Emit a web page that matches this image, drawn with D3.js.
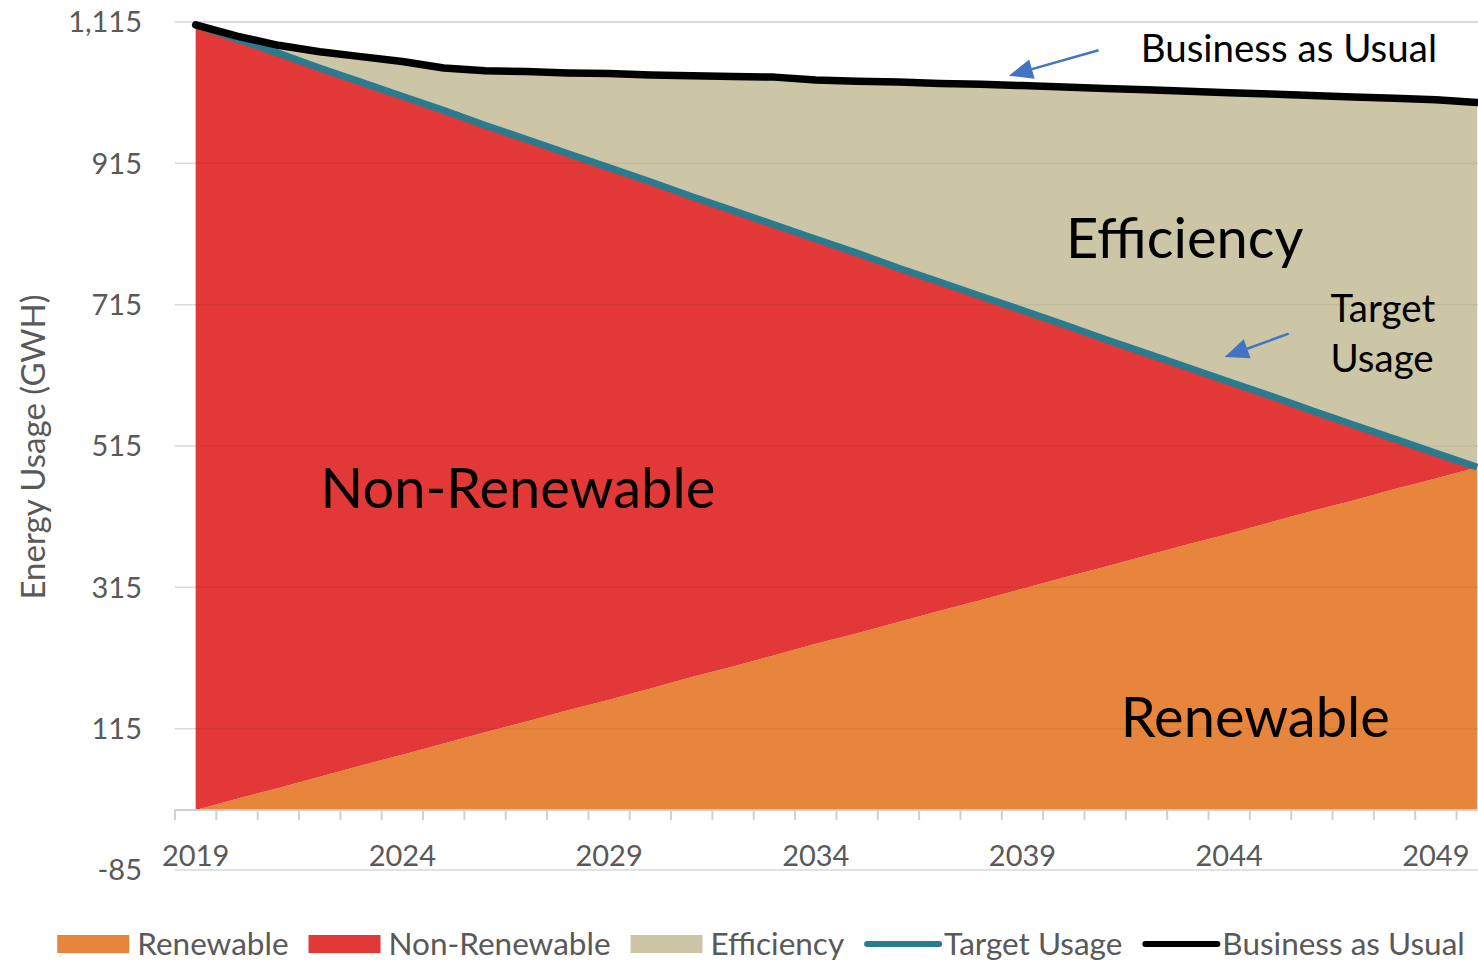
<!DOCTYPE html>
<meta charset="utf-8">
<style>
    body { margin: 0; background: #ffffff; }
    text { font-family: Lato, "Open Sans", sans-serif; }
    .tick-label { fill: #595959; font-size: 29px; }
    .legend text { fill: #595959; font-size: 31.5px; }
    .note { fill: #000000; }
</style>
<svg width="1478" height="962"></svg>
<script src="https://cdnjs.cloudflare.com/ajax/libs/d3/7.8.5/d3.min.js"></script>
<script>

    // data (GWH)
    var years = [2019, 2020, 2021, 2022, 2023, 2024, 2025, 2026, 2027, 2028, 2029,
        2030, 2031, 2032, 2033, 2034, 2035, 2036, 2037, 2038, 2039, 2040,
        2041, 2042, 2043, 2044, 2045, 2046, 2047, 2048, 2049, 2050];

    var renewable = [0, 16, 31, 47, 63, 78, 94, 110, 125, 141, 156,
        172, 188, 203, 219, 235, 250, 266, 282, 297, 313, 329,
        344, 360, 376, 391, 407, 423, 438, 454, 469, 485];

    var targetUsage = [1111, 1091, 1071, 1050, 1030, 1010, 990, 969, 949, 929, 909,
        889, 868, 848, 828, 808, 788, 767, 747, 727, 707, 687,
        666, 646, 626, 606, 586, 565, 545, 525, 505, 485];

    var businessAsUsual = [1111, 1095, 1082, 1073, 1066, 1059, 1050, 1046, 1045, 1043, 1042,
        1040, 1039, 1038, 1037, 1033, 1031, 1030, 1028, 1027, 1025, 1023,
        1021, 1019, 1017, 1015, 1013, 1011, 1009, 1007, 1005, 1001];

    var yTicks = [-85, 115, 315, 515, 715, 915, 1115];
    var xLabelYears = [2019, 2024, 2029, 2034, 2039, 2044, 2049];

    var seriesNames = ["Renewable", "Non-Renewable", "Efficiency", "Target Usage", "Business as Usual"];
    var colors = {
        "Renewable": "#e8853c",
        "Non-Renewable": "#e23838",
        "Efficiency": "#ccc6a6",
        "Target Usage": "#2b7b8f",
        "Business as Usual": "#000000"
    };

    // stacked table for the area part
    var table = years.map(function (yr, i) {
        return {
            year: yr,
            "Renewable": renewable[i],
            "Non-Renewable": targetUsage[i] - renewable[i],
            "Efficiency": businessAsUsual[i] - targetUsage[i]
        };
    });

    var svg = d3.select("svg"),
        width = +svg.attr("width"),
        height = +svg.attr("height");

    var step = 41.34;
    var x = d3.scaleBand().domain(years).range([175, 175 + years.length * step]);
    var xc = function (yr) { return x(yr) + x.bandwidth() / 2; };
    // fractional years, used for the annotations
    var xl = d3.scaleLinear().domain([years[0], years[years.length - 1]])
        .range([xc(years[0]), xc(years[years.length - 1])]);
    var y = d3.scaleLinear().domain([-85, 1115]).range([870, 22]);

    // gridlines
    svg.append("g")
        .selectAll("line")
        .data(yTicks)
        .enter().append("line")
        .attr("x1", 175).attr("x2", width)
        .attr("y1", function (d) { return y(d); })
        .attr("y2", function (d) { return y(d); })
        .attr("stroke", "#d9d9d9")
        .attr("stroke-width", 1.5);

    // areas
    var stack = d3.stack().keys(["Renewable", "Non-Renewable", "Efficiency"]);
    var layers = stack(table);
    var area = d3.area()
        .x(function (d) { return xc(d.data.year); })
        .y0(function (d) { return y(d[0]); })
        .y1(function (d) { return y(d[1]); });

    svg.append("g")
        .selectAll("path")
        .data(layers)
        .enter().append("path")
        .attr("d", area)
        .attr("fill", function (d) { return colors[d.key]; });

    // faint gridlines showing through the fill
    svg.append("g")
        .selectAll("line")
        .data(yTicks.filter(function (d) { return d > 0; }))
        .enter().append("line")
        .attr("x1", xc(years[0])).attr("x2", width)
        .attr("y1", function (d) { return y(d); })
        .attr("y2", function (d) { return y(d); })
        .attr("stroke", "rgba(0,0,0,0.05)")
        .attr("stroke-width", 1.5);

    // x axis at zero
    var xAxis = svg.append("g");
    xAxis.append("line")
        .attr("x1", 175).attr("x2", width)
        .attr("y1", y(0)).attr("y2", y(0))
        .attr("stroke", "#d0d0d0")
        .attr("stroke-width", 2);
    xAxis.selectAll(".xtick")
        .data(years)
        .enter().append("line")
        .attr("class", "xtick")
        .attr("x1", function (d) { return x(d); })
        .attr("x2", function (d) { return x(d); })
        .attr("y1", y(0)).attr("y2", y(0) + 10)
        .attr("stroke", "#d0d0d0")
        .attr("stroke-width", 2);
    xAxis.selectAll("text")
        .data(xLabelYears)
        .enter().append("text")
        .attr("class", "tick-label")
        .attr("x", function (d) { return xc(d); })
        .attr("y", y(-85) - 4)
        .attr("text-anchor", "middle")
        .text(function (d) { return d; });

    // y labels (plain hyphen for the negative value, as in the original)
    var fmt = d3.format(",");
    svg.append("g")
        .selectAll("text")
        .data(yTicks)
        .enter().append("text")
        .attr("class", "tick-label")
        .attr("x", 142)
        .attr("y", function (d) { return y(d); })
        .attr("dy", "0.36em")
        .attr("text-anchor", "end")
        .text(function (d) { return fmt(d).replace("\u2212", "-"); });

    svg.append("text")
        .attr("transform", "translate(45," + 447 + ") rotate(-90)")
        .attr("text-anchor", "middle")
        .attr("fill", "#595959")
        .style("font-size", "33px")
        .text("Energy Usage (GWH)");

    // lines
    var line = d3.line()
        .x(function (d, i) { return xc(years[i]); })
        .y(function (d) { return y(d); });

    svg.append("path")
        .datum(targetUsage)
        .attr("d", line)
        .attr("fill", "none")
        .attr("stroke", colors["Target Usage"])
        .attr("stroke-width", 7)
        .attr("stroke-linejoin", "round");

    svg.append("path")
        .datum(businessAsUsual)
        .attr("d", line)
        .attr("fill", "none")
        .attr("stroke", colors["Business as Usual"])
        .attr("stroke-width", 7.5)
        .attr("stroke-linejoin", "round")
        .attr("stroke-linecap", "round");

    // annotations (positions in year / GWH)
    var notes = [
        { text: "Business as Usual", yr: 2041.86, v: 1058, size: 38.5 },
        { text: "Efficiency", yr: 2040.05, v: 781, size: 56 },
        { text: "Target", yr: 2046.45, v: 690, size: 38.5 },
        { text: "Usage", yr: 2046.45, v: 620, size: 38.5 },
        { text: "Non-Renewable", yr: 2022.02, v: 427, size: 56 },
        { text: "Renewable", yr: 2041.38, v: 103, size: 56 }
    ];
    svg.append("g")
        .selectAll("text")
        .data(notes)
        .enter().append("text")
        .attr("class", "note")
        .attr("x", function (d) { return xl(d.yr); })
        .attr("y", function (d) { return y(d.v); })
        .style("font-size", function (d) { return d.size + "px"; })
        .text(function (d) { return d.text; });

    var arrows = [
        { from: [2040.84, 1075], to: [2038.67, 1039] },
        { from: [2045.44, 674], to: [2043.89, 641] }
    ];
    arrows.forEach(function (a) {
        var x0 = xl(a.from[0]), y0 = y(a.from[1]),
            x1 = xl(a.to[0]), y1 = y(a.to[1]);
        var dx = x1 - x0, dy = y1 - y0, len = Math.hypot(dx, dy);
        var ux = dx / len, uy = dy / len;
        var bx = x1 - ux * 24, by = y1 - uy * 24;
        svg.append("line")
            .attr("x1", x0).attr("y1", y0)
            .attr("x2", bx).attr("y2", by)
            .attr("stroke", "#4472c4")
            .attr("stroke-width", 2.5);
        svg.append("path")
            .attr("d", "M" + x1 + "," + y1 +
                "L" + (bx - uy * 10) + "," + (by + ux * 10) +
                "L" + (bx + uy * 10) + "," + (by - ux * 10) + "Z")
            .attr("fill", "#4472c4");
    });

    // legend
    var legend = svg.append("g").attr("class", "legend");
    var lx = 0;
    seriesNames.forEach(function (name, i) {
        var g = legend.append("g").attr("transform", "translate(" + lx + ",0)");
        var isLine = i > 2;
        if (isLine) {
            g.append("line")
                .attr("x1", 3).attr("x2", 75)
                .attr("y1", 944).attr("y2", 944)
                .attr("stroke", colors[name])
                .attr("stroke-width", 6)
                .attr("stroke-linecap", "round");
        } else {
            g.append("rect")
                .attr("x", 0).attr("y", 935)
                .attr("width", 72).attr("height", 18)
                .attr("fill", colors[name]);
        }
        var t = g.append("text")
            .attr("x", isLine ? 80 : 80)
            .attr("y", 944)
            .attr("dy", "0.36em")
            .text(name);
        lx += 80 + t.node().getComputedTextLength() + 20;
    });
    var legendWidth = lx - 20;
    legend.attr("transform", "translate(" + (761 - legendWidth / 2) + ",0)");

</script>
